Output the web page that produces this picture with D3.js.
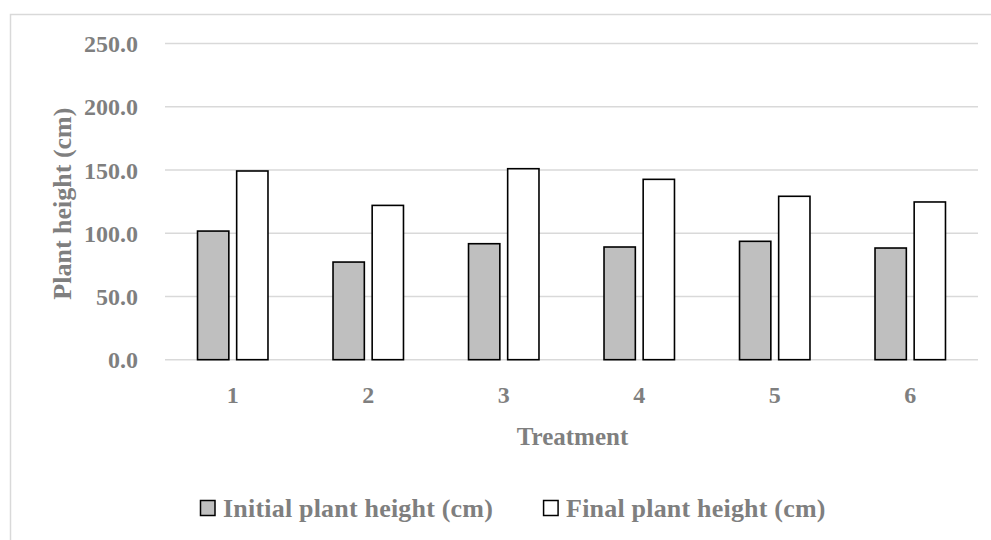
<!DOCTYPE html>
<html>
<head>
<meta charset="utf-8">
<script src="https://cdn.jsdelivr.net/npm/d3@7"></script>
<style>
	body { margin: 0; background: #fff; }
	svg text { font-family: "Liberation Serif", "Times New Roman", serif; font-weight: bold; fill: #7f7f7f; }
</style>
</head>
<body>
<div id="app"></div>
<script>

// data
const treatments = ['1', '2', '3', '4', '5', '6'];
const initialHeight = [101.7, 77.2, 91.7, 89.1, 93.6, 88.3];
const finalHeight = [149.2, 122.0, 151.0, 142.6, 129.2, 124.7];
const seriesNames = ['Initial plant height (cm)', 'Final plant height (cm)'];
const yTicks = [0, 50, 100, 150, 200, 250];

const seriesFill = ['#bfbfbf', '#ffffff'];

const width = 991,
	height = 540;

const plot = {
	left: 165,
	right: 978,
	top: 43.5,
	bottom: 359.7
};

const svg = d3.select('#app').append('svg')
	.attr('width', width)
	.attr('height', height);

// chart frame (runs off the page on the right and bottom)
svg.append('rect')
	.attr('x', 10.5)
	.attr('y', 14.5)
	.attr('width', 1000)
	.attr('height', 600)
	.attr('fill', 'none')
	.attr('stroke', '#d9d9d9')
	.attr('stroke-width', 1.5);

let yScale = d3.scaleLinear()
	.domain([0, 250])
	.range([plot.bottom, plot.top]);

let x0 = d3.scaleBand()
	.domain(treatments)
	.range([plot.left, plot.right])
	.paddingInner(0.48)
	.paddingOuter(0.24);

let x1 = d3.scaleBand()
	.domain([0, 1])
	.range([0, x0.bandwidth()])
	.paddingInner(0.2);

// gridlines
svg.append('g')
	.selectAll('line')
	.data(yTicks)
	.enter().append('line')
	.attr('x1', plot.left)
	.attr('x2', plot.right)
	.attr('y1', d => yScale(d))
	.attr('y2', d => yScale(d))
	.attr('stroke', '#d9d9d9')
	.attr('stroke-width', 1.5);

// y axis labels
let yAxis = d3.axisLeft(yScale)
	.tickValues(yTicks)
	.tickFormat(d3.format('.1f'))
	.tickSize(0)
	.tickPadding(27);
let yAxisG = svg.append('g')
	.attr('transform', `translate(${ plot.left },0)`)
	.call(yAxis);
yAxisG.select('.domain').remove();
yAxisG.selectAll('text')
	.attr('font-size', 24)
	.attr('font-family', null)
	.attr('fill', null)
	.attr('dy', '0.34em');

// x axis labels
let xAxis = d3.axisBottom(x0)
	.tickSize(0)
	.tickPadding(0);
let xAxisG = svg.append('g')
	.attr('transform', `translate(0,${ plot.bottom })`)
	.call(xAxis);
xAxisG.select('.domain').remove();
xAxisG.selectAll('text')
	.attr('font-size', 24)
	.attr('font-family', null)
	.attr('fill', null)
	.attr('dy', null)
	.attr('y', 43.5);

// bars
const rows = treatments.map((t, i) => ({ t, values: [initialHeight[i], finalHeight[i]] }));

let groups = svg.append('g')
	.selectAll('g')
	.data(rows)
	.enter().append('g')
	.attr('transform', d => `translate(${ x0(d.t) },0)`);

groups.selectAll('rect')
	.data(d => d.values)
	.enter().append('rect')
	.attr('x', (d, i) => x1(i))
	.attr('y', d => yScale(d))
	.attr('width', x1.bandwidth())
	.attr('height', d => yScale(0) - yScale(d))
	.attr('fill', (d, i) => seriesFill[i])
	.attr('stroke', '#000')
	.attr('stroke-width', 1.6);

// axis titles
svg.append('text')
	.attr('x', (plot.left + plot.right) / 2 + 1)
	.attr('y', 445)
	.attr('text-anchor', 'middle')
	.attr('font-size', 25)
	.text('Treatment');

svg.append('text')
	.attr('transform', `translate(71,${ (plot.top + plot.bottom) / 2 + 2 }) rotate(-90)`)
	.attr('text-anchor', 'middle')
	.attr('font-size', 26)
	.text('Plant height (cm)');

// legend
let legendX = 200;
seriesNames.forEach((name, i) => {
	let item = svg.append('g')
		.attr('transform', `translate(${ legendX },500)`);
	item.append('rect')
		.attr('x', 0.5)
		.attr('y', 0.5)
		.attr('width', 14.5)
		.attr('height', 15)
		.attr('fill', seriesFill[i])
		.attr('stroke', '#000')
		.attr('stroke-width', 1.5);
	let label = item.append('text')
		.attr('x', 23)
		.attr('y', 16.5)
		.attr('font-size', 26)
		.attr('letter-spacing', 0.2)
		.text(name);
	legendX += 23 + label.node().getComputedTextLength() + 50;
});

</script>
</body>
</html>
